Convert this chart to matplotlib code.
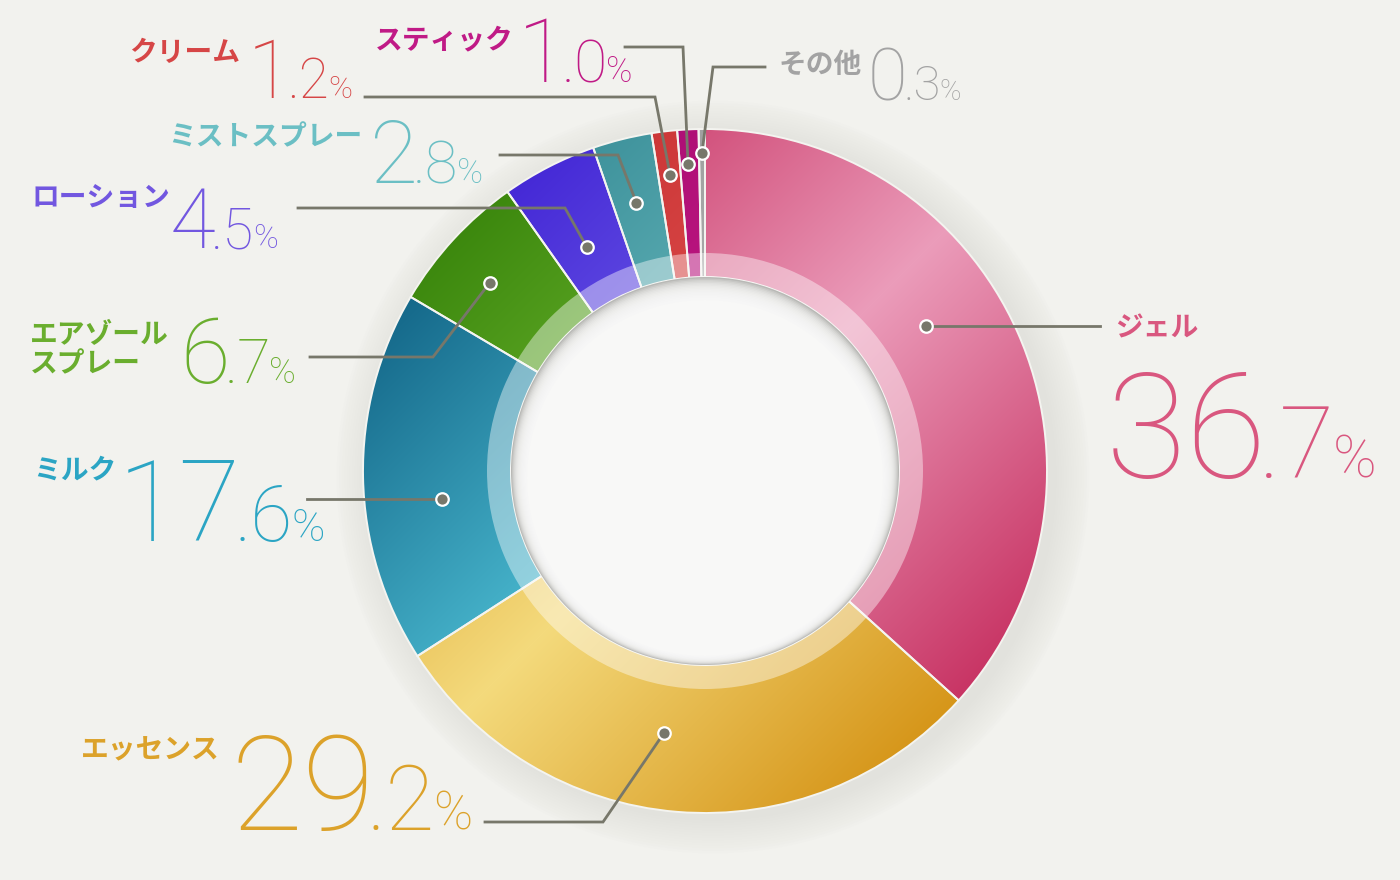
"""Donut chart of product-type shares (Japanese labels)."""

import numpy as np
import matplotlib.pyplot as plt
from matplotlib.colors import to_rgb
from matplotlib.patches import Circle, Wedge

# ---- data ---------------------------------------------------------------
names = ["ジェル", "エッセンス", "ミルク", "エアゾール\nスプレー", "ローション",
         "ミストスプレー", "クリーム", "スティック", "その他"]
shares = [36.7, 29.2, 17.6, 6.7, 4.5, 2.8, 1.2, 1.0, 0.3]

# ---- style --------------------------------------------------------------
wedge_colors = ["#dd6a90", "#e9bd45", "#2a90b2", "#5aa322", "#5a42dc",
                "#4ba4ad", "#d63e3e", "#b8127c", "#a9a9a9"]
light_colors = ["#eb9cba", "#f4da7c", "#4cbcd2", "#74bc34", "#7464ea",
                "#6cbcc0", "#e05050", "#c41a88", "#b4b4b4"]
dark_colors = ["#c83464", "#d6961a", "#136688", "#3c880e", "#4428d6",
               "#3a8e98", "#c83232", "#a80c70", "#989898"]
label_colors = ["#d9577f", "#dca22a", "#2ba5c4", "#6aae2e", "#7257e0",
                "#6bbfc4", "#d64646", "#c01a86", "#a3a3a3"]

CX, CY = 705, 471          # donut centre in pixels (y downwards)
R_OUT, R_BAND, R_HOLE = 342, 218, 194
LINE_COLOR = "#77776a"
EDGE_COLOR = "#f4f4f0"
NUM_FONT = "Roboto"
NAME_FONT = ["Noto Sans CJK JP", "DejaVu Sans"]

# where the dot sits inside each wedge (fraction of sweep, radius)
dot_frac = [0.43, 0.54, 0.42, 0.44, 0.46, 0.47, 0.53, 0.42, 0.5]
dot_rad = [264, 265, 265, 286, 253, 277, 298, 307, 318]
# leader elbow (None = straight) and the x where the line ends
elbows = [None, (603, 822), None, (433, 357), (565, 208), (618, 155),
          (655, 97), (683, 47), (713, 67)]
line_end_x = [1100, 485, 307, 310, 298, 500, 365, 625, 765]
# number anchor (left x, baseline y), integer cap size, name anchor
num_pos = [(1106, 478), (230, 830), (118, 541), (180, 383), (170, 248),
           (370, 183), (248, 98), (518, 82), (868, 100)]
num_size = [106, 95, 81, 65, 60, 63, 58, 64, 52]
name_pos = [(1115, 328, "left"), (220, 750, "right"), (116, 470, "right"),
            (30, 350, "left"), (170, 198, "right"), (362, 137, "right"),
            (240, 53, "right"), (514, 40, "right"), (862, 65, "right")]


def draw_number(ax, renderer, x, y, value, size, color):
    """Big integer part, smaller decimal part and percent sign."""
    whole, dec = f"{value:.1f}".split(".")
    parts = [(whole, size, -0.08), ("." + dec, size * 0.68, -0.03),
             ("%", size * 0.40, 0.0)]
    for text, fs, gap in parts:
        t = ax.text(x, y, text, fontsize=fs, color=color, family=NUM_FONT,
                    fontweight=100, ha="left", va="baseline")
        bbox = t.get_window_extent(renderer)
        x += bbox.width + gap * fs


fig = plt.figure(figsize=(14, 8.8), dpi=100, facecolor="#f2f2ee")
ax = fig.add_axes([0, 0, 1, 1])
ax.set_facecolor("#f2f2ee")

# soft shadow behind the ring
for i in range(14):
    ax.add_patch(Circle((CX + 8, CY + 6), R_OUT + 2 + i * 2.5,
                        color="#9a9a94", alpha=0.012, lw=0, zorder=0))

# y axis is inverted, so start at -90 and go counter-clockwise in data
wedges, _ = ax.pie(shares, colors=wedge_colors, startangle=-90,
                   counterclock=True, radius=R_OUT, center=(CX, CY),
                   wedgeprops=dict(width=R_OUT - R_HOLE, linewidth=0))

# diagonal lighting: light along the bottom-left/top-right line
x0, x1 = CX - R_OUT - 2, CX + R_OUT + 2
y0, y1 = CY - R_OUT - 2, CY + R_OUT + 2
gx, gy = np.meshgrid(np.arange(x0, x1) + 0.5, np.arange(y0, y1) + 0.5)
shade = np.clip(np.abs((gx - CX) + (gy - CY)) / (np.sqrt(2) * R_OUT), 0, 1)
shade = shade[..., None]
for i, w in enumerate(wedges):
    lo = np.array(to_rgb(light_colors[i]))
    hi = np.array(to_rgb(dark_colors[i]))
    img = lo * (1 - shade) + hi * shade
    im = ax.imshow(img, extent=(x0, x1, y1, y0), origin="upper",
                   interpolation="bilinear", zorder=1.5)
    im.set_clip_path(w)

# wedge outlines on top
ax.pie(shares, colors=["none"] * len(shares), startangle=-90,
       counterclock=True, radius=R_OUT, center=(CX, CY),
       wedgeprops=dict(width=R_OUT - R_HOLE, edgecolor=EDGE_COLOR,
                       linewidth=1.4, zorder=2))

# translucent inner band
ax.add_patch(Wedge((CX, CY), R_BAND, 0, 360, width=R_BAND - R_HOLE,
                   color="white", alpha=0.42, lw=0, zorder=2.5))

# inner hole with inset shadow
ax.add_patch(Circle((CX, CY), R_HOLE, color="#b9b9b6", lw=0, zorder=3))
for k in range(1, 16):
    ax.add_patch(Circle((CX, CY + k * 0.45), R_HOLE - k * 1.0,
                        color="#fafafa", alpha=0.22, lw=0, zorder=3))
ax.add_patch(Circle((CX, CY + 7), R_HOLE - 16, color="#f8f8f7", lw=0,
                    zorder=3))

ax.set_xlim(0, 1400)
ax.set_ylim(880, 0)
ax.set_aspect("equal")
ax.axis("off")

renderer = fig.canvas.get_renderer()

for i, w in enumerate(wedges):
    theta = np.radians(w.theta1 + (w.theta2 - w.theta1) * dot_frac[i])
    dx = CX + dot_rad[i] * np.cos(theta)
    dy = CY + dot_rad[i] * np.sin(theta)
    if elbows[i] is None:
        xs, ys = [dx, line_end_x[i]], [dy, dy]
    else:
        ex, ey = elbows[i]
        xs, ys = [dx, ex, line_end_x[i]], [dy, ey, ey]
    ax.plot(xs, ys, color=LINE_COLOR, lw=2.0, zorder=5,
            solid_joinstyle="miter")
    ax.plot(dx, dy, "o", ms=9, mfc=LINE_COLOR, mec="white", mew=1.6,
            zorder=6)

    nx, ny, ha = name_pos[i]
    ax.text(nx, ny, names[i], fontsize=20, fontweight="bold",
            family=NAME_FONT, color=label_colors[i], ha=ha, va="center",
            multialignment="left", linespacing=1.05)
    px, py = num_pos[i]
    draw_number(ax, renderer, px, py, shares[i], num_size[i], label_colors[i])

fig.savefig("out.png", dpi=100, facecolor=fig.get_facecolor())
